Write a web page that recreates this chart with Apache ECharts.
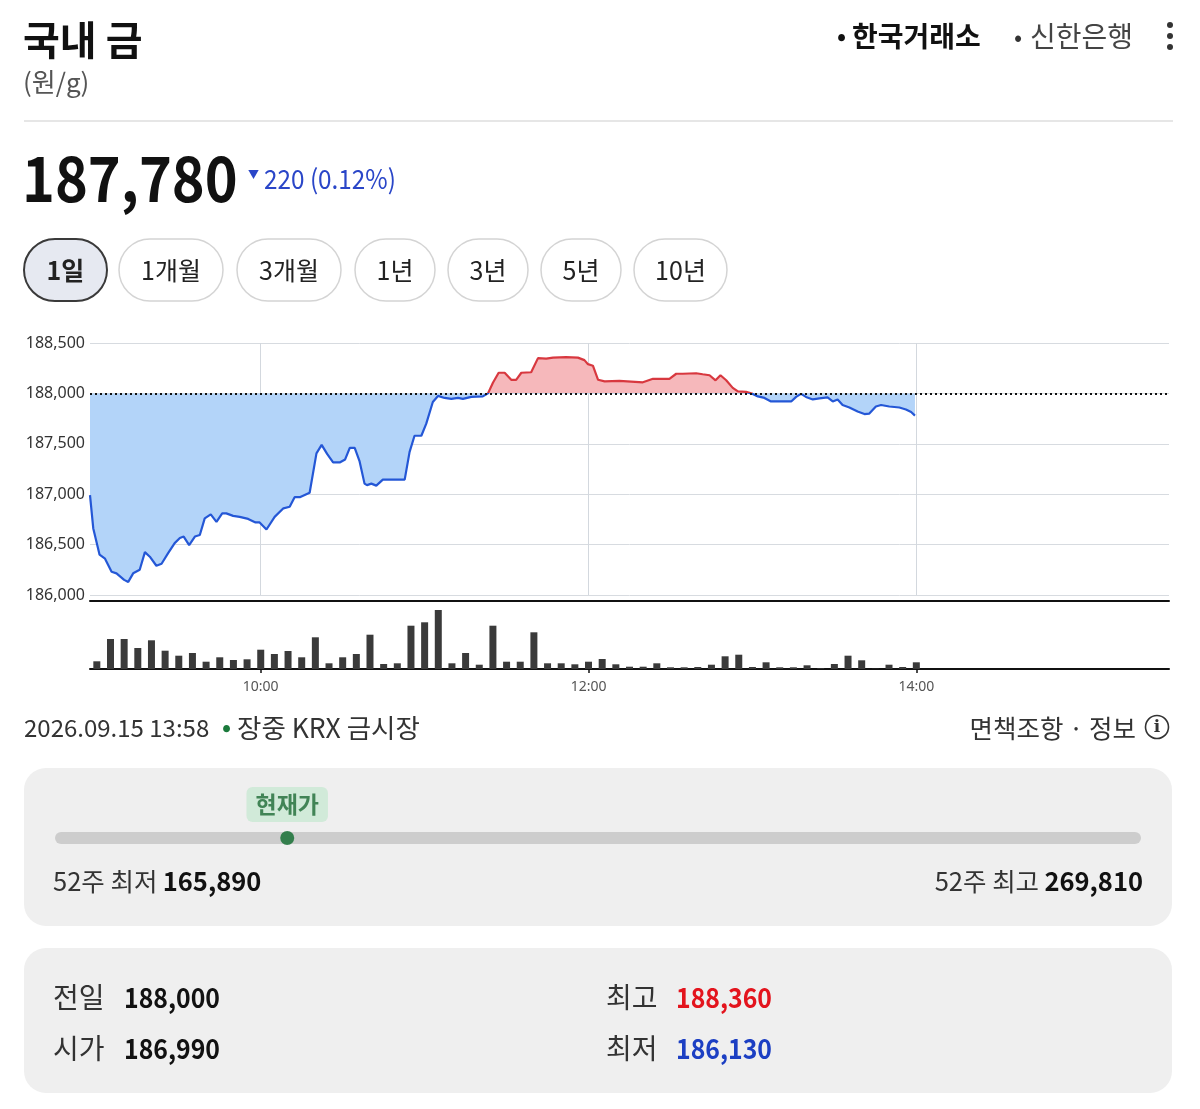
<!DOCTYPE html>
<html>
<head>
<meta charset="utf-8">
<script src="https://cdn.jsdelivr.net/npm/echarts@6/dist/echarts.min.js"></script>
<style>
html,body{margin:0;padding:0;background:#fff;}
#chart{width:1200px;height:1109px;}
</style>
</head>
<body>
<div id="chart"></div>
<script>
// ---------- data ----------
const title = '국내 금';
const unit = '(원/g)';
const sources = ['한국거래소', '신한은행'];
const periodButtons = ['1일', '1개월', '3개월', '1년', '3년', '5년', '10년'];
const currentPrice = 187780;
const priceChange = -220;
const priceChangePct = 0.12;
const prevClose = 188000;
const openPrice = 186990;
const highPrice = 188360;
const lowPrice = 186130;
const low52w = 165890;
const high52w = 269810;
const timestampText = '2026.09.15 13:58';
const marketText = '장중 KRX 금시장';

// minutes after 09:00
const priceMinutes = [-2.5,-1.3,1,3,5.4,7.2,10,11.5,13.3,15.7,17.6,19.4,21.8,23.7,26.1,28.5,30.4,31.8,33.8,35.9,37.7,39.5,41.7,43.8,45.9,47.4,49.9,52.3,55.4,58.1,59.6,62.1,65.1,68.3,70.6,72.4,74.3,77.9,80.4,82.3,84.3,86.5,88.9,90.9,92.6,94.4,96.2,98,98.9,100.5,102.3,104.7,112.7,114.5,116.3,118.8,120.6,123,124.9,127.3,129.8,132.2,134,137.1,141.3,143.2,145,147.1,149.3,151.7,153.5,155.4,159,161.5,164.5,167,171.8,176.1,178.5,179.8,181.6,183.5,185.9,191.3,199.9,203.6,209.6,212.1,214.5,219.4,221.8,224.3,226.5,228.3,230.4,232.8,234.7,237.7,240.1,242,244.4,246.8,254.2,256,257.8,259.6,262.1,264.5,267.5,269.4,271.2,273,275.5,278.5,281,282.8,285.2,287.1,290.1,293.8,296.2,298.1,299.5];
const priceValues = [186990,186660,186400,186360,186230,186215,186150,186130,186215,186250,186425,186380,186290,186310,186415,186515,186565,186580,186495,186580,186595,186760,186800,186725,186810,186810,186785,186775,186755,186720,186720,186650,186775,186860,186875,186970,186970,187015,187405,187490,187400,187315,187315,187345,187460,187460,187325,187105,187090,187105,187085,187145,187145,187420,187580,187580,187700,187915,187975,187955,187945,187955,187945,187965,187970,188000,188105,188205,188205,188135,188135,188205,188210,188350,188345,188355,188360,188355,188330,188290,188275,188135,188120,188125,188110,188145,188145,188195,188195,188200,188190,188180,188130,188180,188130,188055,188020,188015,187995,187970,187955,187920,187920,187965,187995,187965,187940,187950,187960,187920,187940,187885,187860,187820,187795,187800,187870,187885,187870,187860,187840,187815,187780];

const volumeTimes = ['09:00','09:05','09:10','09:15','09:20','09:25','09:30','09:35','09:40','09:45','09:50','09:55',
  '10:00','10:05','10:10','10:15','10:20','10:25','10:30','10:35','10:40','10:45','10:50','10:55',
  '11:00','11:05','11:10','11:15','11:20','11:25','11:30','11:35','11:40','11:45','11:50','11:55',
  '12:00','12:05','12:10','12:15','12:20','12:25','12:30','12:35','12:40','12:45','12:50','12:55',
  '13:00','13:05','13:10','13:15','13:20','13:25','13:30','13:35','13:40','13:45','13:50','13:55','14:00'];
const volumeValues = [77,300,300,210,287,183,133,160,73,117,90,97,
  193,150,180,117,317,57,117,150,343,50,57,433,
  467,590,57,160,43,433,73,73,367,57,57,47,
  73,100,47,23,23,57,17,17,20,43,127,143,
  20,67,17,17,37,7,50,133,87,3,43,20,67];

const xTickLabels = ['10:00', '12:00', '14:00'];
const yTicks = [186000, 186500, 187000, 187500, 188000, 188500];

// ---------- helpers ----------
const FONT = '"Noto Sans CJK KR", "Noto Sans", sans-serif';
const fmt = n => n.toLocaleString('en-US');
const toMin = s => { const [h, m] = s.split(':').map(Number); return (h - 9) * 60 + m; };
const fromMin = v => { const t = Math.round(v) + 540; const h = Math.floor(t / 60), m = t % 60; return String(h).padStart(2,'0') + ':' + String(m).padStart(2,'0'); };
const xTicks = xTickLabels.map(toMin);
const priceData = priceMinutes.map((m, i) => [m, priceValues[i]]);
const volumeData = volumeTimes.map((t, i) => [toMin(t), volumeValues[i]]);

const BLUE_LINE = '#2457d6', RED_LINE = '#d8383f';
const BLUE_AREA = '#b3d4f9', RED_AREA = '#f6b8bb';

// ---------- graphic ----------
const graphic = [];
const txt = (x, y, text, o = {}, el = {}) => graphic.push(Object.assign({ type: 'text', x, y, silent: true, z: 10, style: Object.assign({ text, fontFamily: FONT, fontSize: 24, fill: '#222', verticalAlign: 'middle', align: 'left' }, o) }, el));

txt(23, 40, title, { fontSize: 40, fontWeight: 'bold', fill: '#111' });
txt(23, 82, unit, { fontSize: 26, fill: '#555' });
txt(837, 36, '•', { fontSize: 24, fontWeight: 'bold', fill: '#111' });
txt(852, 36, sources[0], { fontSize: 28, fontWeight: 'bold', fill: '#111' });
txt(1014, 37, '•', { fontSize: 24, fill: '#333' });
txt(1030, 36, sources[1], { fontSize: 28, fill: '#444' });
[25, 36, 47].forEach(y => graphic.push({ type: 'circle', shape: { cx: 1170, cy: y, r: 3 }, style: { fill: '#333' }, silent: true }));
graphic.push({ type: 'line', shape: { x1: 24, y1: 121, x2: 1173, y2: 121 }, style: { stroke: '#dedede', lineWidth: 1.5 }, silent: true });

txt(22, 178, fmt(currentPrice), { fontSize: 62, fontWeight: 'bold', fill: '#111' }, { scaleX: 0.9 });
txt(248, 175, priceChange < 0 ? '▼' : '▲', { fontSize: 11, fill: '#2a46c8' });
txt(264, 179, fmt(Math.abs(priceChange)) + ' (' + priceChangePct.toFixed(2) + '%)', { fontSize: 27, fill: '#2a46c8' }, { scaleX: 0.9 });

const btnX = [[24,107],[119,223],[237,341],[355,435],[448,528],[541,621],[634,727]];
periodButtons.forEach((b, i) => {
  const [x0, x1] = btnX[i];
  const sel = i === 0;
  graphic.push({ type: 'rect', shape: { x: x0, y: 239, width: x1 - x0, height: 62, r: 31 },
    style: { fill: sel ? '#e6e9f1' : '#fff', stroke: sel ? '#3a3a3a' : '#d4d4d4', lineWidth: sel ? 2 : 1.5 }, silent: true });
  txt((x0 + x1) / 2, 270, b, { align: 'center', fontSize: 25, fontWeight: sel ? 'bold' : 'normal', fill: '#222' });
});

txt(24, 728, timestampText, { fontSize: 24, fill: '#333' });
txt(222, 727, '•', { fontSize: 24, fill: '#1b7a3c', fontWeight: 'bold' });
txt(237, 728, marketText, { fontSize: 26.5, fill: '#333' });
txt(1136, 728, '면책조항 · 정보', { fontSize: 25.5, fill: '#333', align: 'right' });
graphic.push({ type: 'circle', shape: { cx: 1157, cy: 727, r: 11.5 }, style: { fill: 'none', stroke: '#333', lineWidth: 1.6 }, silent: true });
txt(1157, 728, 'i', { fontSize: 17, fill: '#333', align: 'center', fontWeight: 'bold', fontFamily: 'DejaVu Serif' });

graphic.push({ type: 'rect', shape: { x: 24, y: 768, width: 1148, height: 158, r: 22 }, style: { fill: '#efefef' }, silent: true, z: 0 });
graphic.push({ type: 'rect', shape: { x: 24, y: 948, width: 1148, height: 145, r: 22 }, style: { fill: '#efefef' }, silent: true, z: 0 });

const richLV = { a: { fontSize: 25.5, fill: '#333', fontFamily: FONT }, b: { fontSize: 25.5, fontWeight: 'bold', fill: '#111', fontFamily: FONT } };
txt(53, 881, '{a|52주 최저} {b|' + fmt(low52w) + '}', { rich: richLV });
txt(1143, 881, '{a|52주 최고} {b|' + fmt(high52w) + '}', { rich: richLV, align: 'right' });

txt(53, 997, '전일', { fontSize: 28, fill: '#333' });
txt(124, 998, fmt(prevClose), { fontSize: 27, fontWeight: 'bold', fill: '#111' }, { scaleX: 0.92 });
txt(53, 1048, '시가', { fontSize: 28, fill: '#333' });
txt(124, 1049, fmt(openPrice), { fontSize: 27, fontWeight: 'bold', fill: '#111' }, { scaleX: 0.92 });
txt(606, 997, '최고', { fontSize: 28, fill: '#333' });
txt(676, 998, fmt(highPrice), { fontSize: 27, fontWeight: 'bold', fill: '#e3141d' }, { scaleX: 0.92 });
txt(606, 1048, '최저', { fontSize: 28, fill: '#333' });
txt(676, 1049, fmt(lowPrice), { fontSize: 27, fontWeight: 'bold', fill: '#1c3fc3' }, { scaleX: 0.92 });

// ---------- chart ----------
const chart = echarts.init(document.getElementById('chart'));
const xMin = -2.5, xMax = 392.5;
chart.setOption({
  animation: false,
  backgroundColor: '#fff',
  textStyle: { fontFamily: FONT },
  graphic,
  grid: [
    { left: 90, right: 31, top: 343, height: 252 },
    { left: 90, right: 31, top: 601, height: 68 },
    { left: 61, right: 65, top: 828, height: 20 }
  ],
  xAxis: [
    { gridIndex: 0, type: 'value', min: xMin, max: xMax,
      axisLine: { show: false }, axisTick: { show: false, customValues: xTicks }, axisLabel: { show: false, customValues: xTicks },
      splitLine: { show: true, lineStyle: { color: '#d3d8de', width: 1 } } },
    { gridIndex: 1, type: 'value', min: xMin, max: xMax, position: 'bottom',
      axisLine: { onZero: false, lineStyle: { color: '#111', width: 2 } },
      axisTick: { show: true, length: 4, customValues: xTicks, lineStyle: { color: '#111', width: 1.5 } },
      axisLabel: { customValues: xTicks, formatter: v => fromMin(v), color: '#555', fontSize: 14, margin: 11, fontFamily: '"Noto Sans", sans-serif' },
      splitLine: { show: false } },
    { gridIndex: 1, type: 'value', min: xMin, max: xMax, position: 'top',
      axisLine: { onZero: false, lineStyle: { color: '#111', width: 2 } },
      axisTick: { show: false }, axisLabel: { show: false }, splitLine: { show: false } },
    { gridIndex: 2, type: 'value', min: low52w, max: high52w,
      axisLine: { onZero: true, lineStyle: { color: '#cdcdcd', width: 12, cap: 'round' } },
      axisTick: { show: false }, axisLabel: { show: false }, splitLine: { show: false } }
  ],
  yAxis: [
    { gridIndex: 0, type: 'value', min: yTicks[0], max: yTicks[yTicks.length - 1], interval: 500,
      axisLine: { show: false }, axisTick: { show: false },
      axisLabel: { formatter: v => fmt(v), color: '#333', fontSize: 16, margin: 5, fontFamily: '"Noto Sans", sans-serif' },
      splitLine: { lineStyle: { color: '#d7dbe0', width: 1 } } },
    { gridIndex: 1, type: 'value', min: 0, max: 680, show: false, splitLine: { show: false } },
    { gridIndex: 2, type: 'value', min: -1, max: 1, show: false, splitLine: { show: false } }
  ],
  visualMap: [
    { type: 'piecewise', show: false, seriesIndex: 0, dimension: 1,
      pieces: [{ min: 0, max: prevClose, color: BLUE_LINE }, { min: prevClose, max: prevClose * 2, color: RED_LINE }] },
    { type: 'piecewise', show: false, seriesIndex: 1, dimension: 1,
      pieces: [{ min: 0, max: prevClose, color: BLUE_AREA }, { min: prevClose, max: prevClose * 2, color: RED_AREA }] }
  ],
  series: [
    { name: 'price', type: 'line', xAxisIndex: 0, yAxisIndex: 0, data: priceData, showSymbol: false, z: 4,
      lineStyle: { width: 2.2 },
      markLine: { silent: true, symbol: ['none', 'none'], label: { show: false },
        lineStyle: { type: [2, 3], color: '#111', width: 2 }, data: [{ yAxis: prevClose }] } },
    { name: 'area', type: 'line', xAxisIndex: 0, yAxisIndex: 0, data: priceData, showSymbol: false, z: 2,
      lineStyle: { width: 0, opacity: 0 }, areaStyle: { origin: prevClose, opacity: 1 } },
    { name: 'volume', type: 'bar', xAxisIndex: 1, yAxisIndex: 1, data: volumeData, barWidth: 7,
      itemStyle: { color: '#3a3a3a' } },
    { name: 'current', type: 'scatter', xAxisIndex: 3, yAxisIndex: 2, data: [[currentPrice, 0]], symbolSize: 14, z: 5,
      itemStyle: { color: '#0c6a2c' },
      label: { show: true, position: 'top', distance: 9, formatter: '현재가', backgroundColor: '#c9e8d3',
        color: '#1d6a35', fontWeight: 'bold', fontSize: 23, padding: [6, 9], borderRadius: 6, fontFamily: FONT } }
  ]
});
</script>
</body>
</html>
